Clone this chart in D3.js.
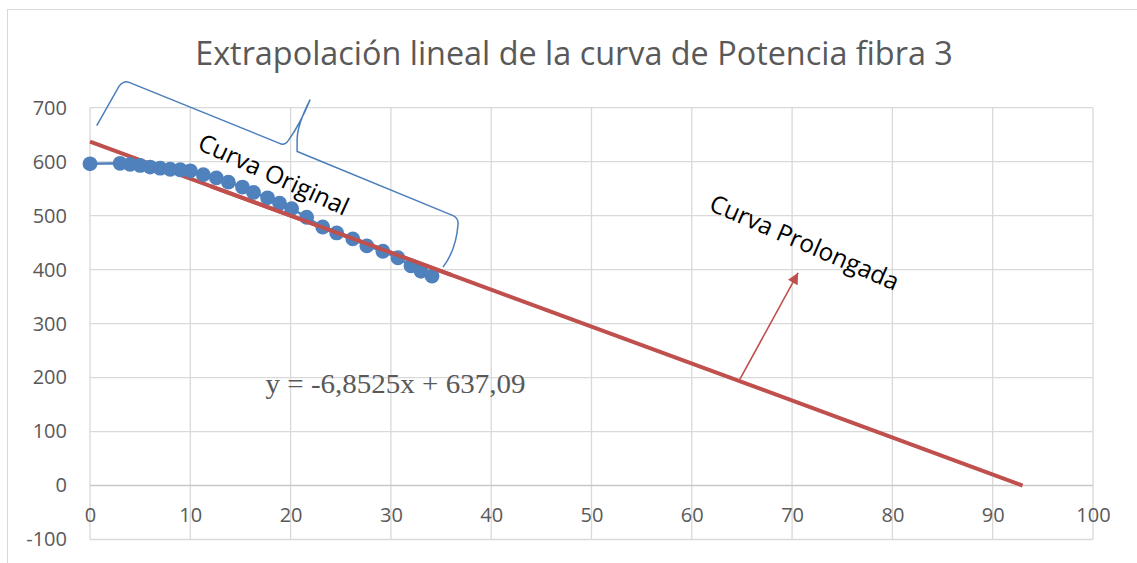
<!DOCTYPE html>
<html>
<head>
<meta charset="utf-8">
<script src="https://cdn.jsdelivr.net/npm/d3@7"></script>
<style>
  body { margin: 0; background: #fff; }
  text { font-family: "Open Sans", sans-serif; }
</style>
</head>
<body>
<script>
const width = 1137;
const height = 563;

// data
const xs = [0, 3, 4, 5, 6, 7, 8, 9, 10, 11.3, 12.6, 13.8, 15.2, 16.3, 17.7, 18.9, 20.1, 21.6, 23.2, 24.6, 26.2, 27.6, 29.2, 30.7, 32, 33, 34.1];
const ys = [596, 597, 595, 593, 590, 588, 586, 585, 583, 576, 570, 562, 553, 543, 533, 523, 513, 497, 479, 468, 457, 444, 434, 422, 407, 397, 388];
const slope = -6.8525;
const intercept = 637.09;
const x_ticks = [0, 10, 20, 30, 40, 50, 60, 70, 80, 90, 100];
const y_ticks = [-100, 0, 100, 200, 300, 400, 500, 600, 700];
const title = 'Extrapolación lineal de la curva de Potencia fibra 3';
const equation = 'y = -6,8525x + 637,09';

// annotation anchors, in data units
const brace_pts = {
    a: [0.67, 667], b1: [2.9, 740], b: [3.4, 751], b2: [3.9, 747],
    c1: [18.9, 634], c: [19.4, 629], c2: [19.8, 640],
    t1: [20.9, 668], t: [21.95, 715],
    d1: [20.7, 670], d0: [20.65, 642], d: [20.65, 619], d2: [20.9, 617],
    e1: [36.2, 500], e: [36.7, 496], e2: [36.7, 485],
    f1: [36.5, 436], f: [35.2, 405]
};
const arrow_from = [64.8, 197];
const arrow_to = [70.6, 394];
const label_original = [10.6, 624];
const label_prolongada = [61.6, 511];
const label_equation = [17.5, 172];

const x = d3.scaleLinear().domain([0, 100]).range([90, 1093]);
const y = d3.scaleLinear().domain([-100, 700]).range([539.5, 107.7]);

const svg = d3.select('body')
    .append('svg')
    .attr('width', width)
    .attr('height', height);

svg.append('rect')
    .attr('x', 7.5)
    .attr('y', 9.5)
    .attr('width', width + 10)
    .attr('height', height + 10)
    .attr('fill', 'white')
    .attr('stroke', '#d9d9d9');

const title_text = svg.append('text')
    .attr('x', 574)
    .attr('y', 65)
    .attr('text-anchor', 'middle')
    .attr('fill', '#595959')
    .style('font-size', '30px')
    .text(title);
// fit the title to the width seen in the picture
const tw = title_text.node().getComputedTextLength();
title_text.style('font-size', (30 * 758 / tw) + 'px');

// grid
svg.append('g')
    .selectAll('line')
    .data(x_ticks)
    .enter()
    .append('line')
    .attr('x1', d => x(d))
    .attr('x2', d => x(d))
    .attr('y1', y(700))
    .attr('y2', y(-100))
    .attr('stroke', '#d9d9d9')
    .attr('stroke-width', 1.3);
svg.append('g')
    .selectAll('line')
    .data(y_ticks)
    .enter()
    .append('line')
    .attr('x1', x(0))
    .attr('x2', x(100))
    .attr('y1', d => y(d))
    .attr('y2', d => y(d))
    .attr('stroke', d => d === 0 ? '#c8c8c8' : '#d9d9d9')
    .attr('stroke-width', d => d === 0 ? 1.6 : 1.3);

// axes labels
const y_axis = svg.append('g')
    .attr('transform', `translate(${x(0)},0)`)
    .call(d3.axisLeft(y).tickValues(y_ticks).tickFormat(d => String(d)).tickSize(0).tickPadding(23));
const x_axis = svg.append('g')
    .attr('transform', `translate(0,${y(0)})`)
    .call(d3.axisBottom(x).tickValues(x_ticks).tickFormat(d => String(d)).tickSize(0).tickPadding(22));
[y_axis, x_axis].forEach(g => {
    g.select('.domain').remove();
    g.selectAll('text')
        .attr('fill', '#595959')
        .style('font-family', '"Open Sans", sans-serif')
        .style('font-size', '20px');
});

// trend line
const x_end = -intercept / slope;
svg.append('line')
    .attr('x1', x(0))
    .attr('y1', y(intercept))
    .attr('x2', x(x_end))
    .attr('y2', y(0))
    .attr('stroke', '#c0504d')
    .attr('stroke-width', 4);

// original curve
const pts = xs.map((d, i) => [x(d), y(ys[i])]);
svg.append('path')
    .attr('d', d3.line()(pts))
    .attr('fill', 'none')
    .attr('stroke', '#4f81bd')
    .attr('stroke-width', 2.5);
svg.append('g')
    .selectAll('circle')
    .data(pts)
    .enter()
    .append('circle')
    .attr('cx', d => d[0])
    .attr('cy', d => d[1])
    .attr('r', 7.4)
    .attr('fill', '#4f81bd');

// re-draw the trend line part over the markers like the picture
svg.append('line')
    .attr('x1', x(12))
    .attr('y1', y(intercept + slope * 12))
    .attr('x2', x(36))
    .attr('y2', y(intercept + slope * 36))
    .attr('stroke', '#c0504d')
    .attr('stroke-width', 4);

// brace
const p = k => [x(brace_pts[k][0]), y(brace_pts[k][1])];
const bp = d3.path();
bp.moveTo(...p('a'));
bp.lineTo(...p('b1'));
bp.quadraticCurveTo(...p('b'), ...p('b2'));
bp.lineTo(...p('c1'));
bp.quadraticCurveTo(...p('c'), ...p('c2'));
bp.quadraticCurveTo(...p('t1'), ...p('t'));
bp.quadraticCurveTo(...p('d1'), ...p('d0'));
bp.lineTo(...p('d'));
bp.quadraticCurveTo(...p('d'), ...p('d2'));
bp.lineTo(...p('e1'));
bp.quadraticCurveTo(...p('e'), ...p('e2'));
bp.quadraticCurveTo(...p('f1'), ...p('f'));
svg.append('path')
    .attr('d', bp.toString())
    .attr('fill', 'none')
    .attr('stroke', '#4a7ebb')
    .attr('stroke-width', 1.5);

// arrow
svg.append('defs')
    .append('marker')
    .attr('id', 'head')
    .attr('viewBox', '0 0 10 10')
    .attr('refX', 10)
    .attr('refY', 5)
    .attr('markerWidth', 13)
    .attr('markerHeight', 11)
    .attr('markerUnits', 'userSpaceOnUse')
    .attr('orient', 'auto')
    .append('path')
    .attr('d', 'M0,0L10,5L0,10Z')
    .attr('fill', '#c0504d');
svg.append('line')
    .attr('x1', x(arrow_from[0]))
    .attr('y1', y(arrow_from[1]))
    .attr('x2', x(arrow_to[0]))
    .attr('y2', y(arrow_to[1]))
    .attr('stroke', '#c0504d')
    .attr('stroke-width', 1.6)
    .attr('marker-end', 'url(#head)');

// labels
svg.append('text')
    .attr('transform', `translate(${x(label_original[0])},${y(label_original[1])}) rotate(24.5)`)
    .attr('fill', 'black')
    .style('font-size', '24.5px')
    .text('Curva Original');
svg.append('text')
    .attr('transform', `translate(${x(label_prolongada[0])},${y(label_prolongada[1])}) rotate(23.5)`)
    .attr('fill', 'black')
    .style('font-size', '24.5px')
    .text('Curva Prolongada');
const eq = svg.append('text')
    .attr('x', x(label_equation[0]))
    .attr('y', y(label_equation[1]))
    .attr('fill', '#595959')
    .style('font-family', '"Liberation Serif", "Times New Roman", serif')
    .style('font-size', '27px')
    .text(equation);
// the picture is a bit wider than the font: stretch to the measured width
const ew = eq.node().getComputedTextLength();
eq.attr('textLength', 260).attr('lengthAdjust', 'spacingAndGlyphs');
</script>
</body>
</html>
